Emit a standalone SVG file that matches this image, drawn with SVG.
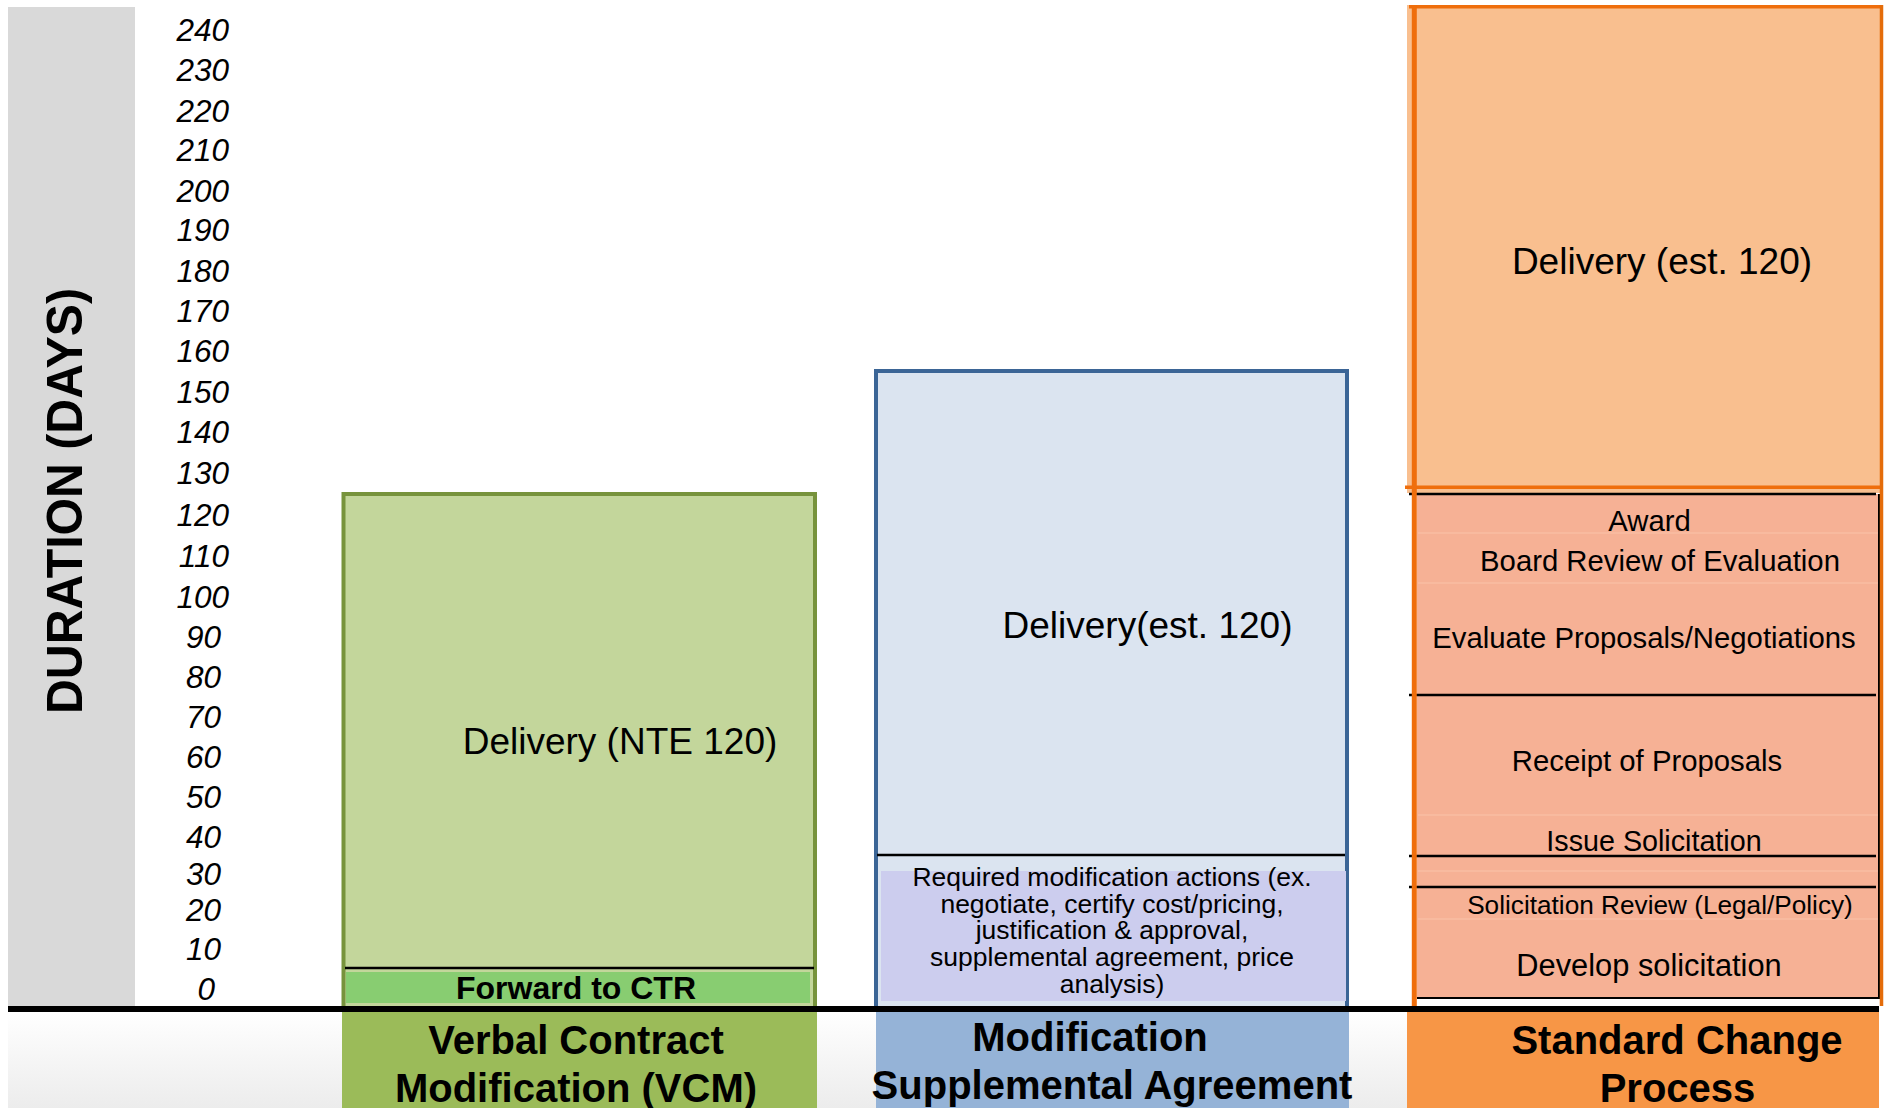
<svg xmlns="http://www.w3.org/2000/svg" width="1891" height="1108" viewBox="0 0 1891 1108">
  <defs>
    <linearGradient id="floorShade" x1="0" y1="0" x2="0" y2="1">
      <stop offset="0" stop-color="#ffffff"/>
      <stop offset="1" stop-color="#ececec"/>
    </linearGradient>
  </defs>
  <style>
    text { font-family: "Liberation Sans", Arial, sans-serif; fill: #000; }
    .tick { font-size: 31.5px; font-style: italic; text-anchor: end; }
    .axis-title { font-size: 50px; font-weight: bold; text-anchor: middle; }
    .lbl { text-anchor: middle; }
    .big { font-size: 37px; }
    .step { font-size: 29.3px; }
    .hdr { font-size: 40px; font-weight: bold; text-anchor: middle; }
    .rule { stroke: #000; stroke-width: 2.5; }
    .faint { stroke: #fac3aa; stroke-width: 1.2; }
    .orange-edge { stroke: #ef6e0c; fill: none; }
  </style>

  <!-- page background and floor shading -->
  <rect x="0" y="0" width="1891" height="1108" fill="#ffffff"/>
  <rect x="8" y="1012" width="1871" height="96" fill="url(#floorShade)"/>

  <!-- vertical axis: grey band, title and tick labels -->
  <g id="axis">
    <rect x="8" y="7" width="127" height="999" fill="#d9d9d9"/>
    <text class="axis-title" transform="translate(82,501) rotate(-90)" textLength="426" lengthAdjust="spacingAndGlyphs">DURATION (DAYS)</text>
    <text class="tick" x="229" y="41">240</text>
    <text class="tick" x="229" y="81">230</text>
    <text class="tick" x="229" y="121.5">220</text>
    <text class="tick" x="229" y="161">210</text>
    <text class="tick" x="229" y="201.5">200</text>
    <text class="tick" x="229" y="241">190</text>
    <text class="tick" x="229" y="281.5">180</text>
    <text class="tick" x="229" y="322">170</text>
    <text class="tick" x="229" y="362">160</text>
    <text class="tick" x="229" y="403">150</text>
    <text class="tick" x="229" y="443">140</text>
    <text class="tick" x="229" y="483.5">130</text>
    <text class="tick" x="229" y="526">120</text>
    <text class="tick" x="229" y="567">110</text>
    <text class="tick" x="229" y="607.5">100</text>
    <text class="tick" x="221" y="647.5">90</text>
    <text class="tick" x="221" y="687.5">80</text>
    <text class="tick" x="221" y="727.5">70</text>
    <text class="tick" x="221" y="767.5">60</text>
    <text class="tick" x="221" y="807.5">50</text>
    <text class="tick" x="221" y="847.5">40</text>
    <text class="tick" x="221" y="885">30</text>
    <text class="tick" x="221" y="920.5">20</text>
    <text class="tick" x="221" y="959.5">10</text>
    <text class="tick" x="215" y="999.5">0</text>
  </g>

  <!-- Verbal Contract Modification column -->
  <g id="vcm">
    <rect x="343.5" y="494" width="471.5" height="514" fill="#c3d69b" stroke="#77933c" stroke-width="4"/>
    <line class="rule" x1="345" y1="968" x2="814" y2="968"/>
    <rect x="346" y="972" width="464" height="31" fill="#88cd71"/>
    <text class="lbl" x="576" y="998.5" font-size="32" font-weight="bold">Forward to CTR</text>
    <text class="lbl big" x="620" y="754">Delivery (NTE 120)</text>
    <rect x="342" y="1012" width="475" height="96" fill="#9bbb59"/>
    <text class="hdr" x="576" y="1054">Verbal Contract</text>
    <text class="hdr" x="576" y="1102">Modification (VCM)</text>
  </g>

  <!-- Modification / Supplemental Agreement column -->
  <g id="supplemental">
    <rect x="876" y="371" width="471" height="637" fill="#dbe4f0" stroke="#3b6596" stroke-width="4"/>
    <text class="lbl big" x="1147.5" y="637.5">Delivery(est. 120)</text>
    <line class="rule" x1="877" y1="855" x2="1345" y2="855"/>
    <rect x="881" y="871" width="465" height="130" fill="#cccdee"/>
    <g font-size="26.5">
      <text class="lbl" x="1112" y="886">Required modification actions (ex.</text>
      <text class="lbl" x="1112" y="912.7">negotiate, certify cost/pricing,</text>
      <text class="lbl" x="1112" y="939.4">justification &amp; approval,</text>
      <text class="lbl" x="1112" y="966">supplemental agreement, price</text>
      <text class="lbl" x="1112" y="992.7">analysis)</text>
    </g>
    <rect x="876" y="1012" width="473" height="96" fill="#95b3d7"/>
    <text class="hdr" x="1090" y="1051">Modification</text>
    <text class="hdr" x="1112" y="1099">Supplemental Agreement</text>
  </g>

  <!-- Standard Change Process column -->
  <g id="standard">
    <rect x="1407" y="5" width="475" height="488" fill="#f9bf8f"/>
    <text class="lbl big" x="1662" y="274">Delivery (est. 120)</text>
    <rect x="1417" y="494" width="462" height="504" fill="#f6b195"/>
    <line class="faint" x1="1418" y1="533" x2="1878" y2="533"/>
    <line class="faint" x1="1418" y1="583" x2="1878" y2="583"/>
    <line class="faint" x1="1418" y1="815" x2="1878" y2="815"/>
    <line class="faint" x1="1418" y1="871" x2="1878" y2="871"/>
    <line class="faint" x1="1418" y1="919" x2="1878" y2="919"/>
    <line class="rule" x1="1409" y1="494" x2="1876" y2="494"/>
    <line class="rule" x1="1409" y1="695" x2="1876" y2="695"/>
    <line class="rule" x1="1409" y1="856" x2="1876" y2="856"/>
    <line class="rule" x1="1409" y1="887" x2="1876" y2="887"/>
    <line x1="1879" y1="494" x2="1879" y2="999" stroke="#000" stroke-width="2"/>
    <line x1="1417" y1="998" x2="1880" y2="998" stroke="#000" stroke-width="2"/>
    <line class="orange-edge" x1="1409" y1="6.7" x2="1881" y2="6.7" stroke-width="3.5"/>
    <line class="orange-edge" x1="1405" y1="487.3" x2="1881" y2="487.3" stroke-width="3.5"/>
    <line class="orange-edge" x1="1414.3" y1="5" x2="1414.3" y2="1006" stroke-width="5"/>
    <line x1="1881.5" y1="5" x2="1881.5" y2="1006" stroke="#e46c0a" stroke-width="3.5"/>
    <text class="lbl step" x="1649.5" y="531" font-size="28.7">Award</text>
    <text class="lbl step" x="1660" y="570.5">Board Review of Evaluation</text>
    <text class="lbl step" x="1644" y="647.5">Evaluate Proposals/Negotiations</text>
    <text class="lbl step" x="1647" y="771">Receipt of Proposals</text>
    <text class="lbl" x="1654" y="851" font-size="28.7">Issue Solicitation</text>
    <text class="lbl" x="1660" y="913.5" font-size="26.2">Solicitation Review (Legal/Policy)</text>
    <text class="lbl" x="1649" y="976" font-size="30.8">Develop solicitation</text>
    <rect x="1407" y="1012" width="472" height="96" fill="#f79646"/>
    <text class="hdr" x="1677" y="1053.5">Standard Change</text>
    <text class="hdr" x="1677.5" y="1101.5">Process</text>
  </g>

  <!-- baseline of the chart -->
  <line x1="8" y1="1009" x2="1879" y2="1009" stroke="#000" stroke-width="6"/>
</svg>
